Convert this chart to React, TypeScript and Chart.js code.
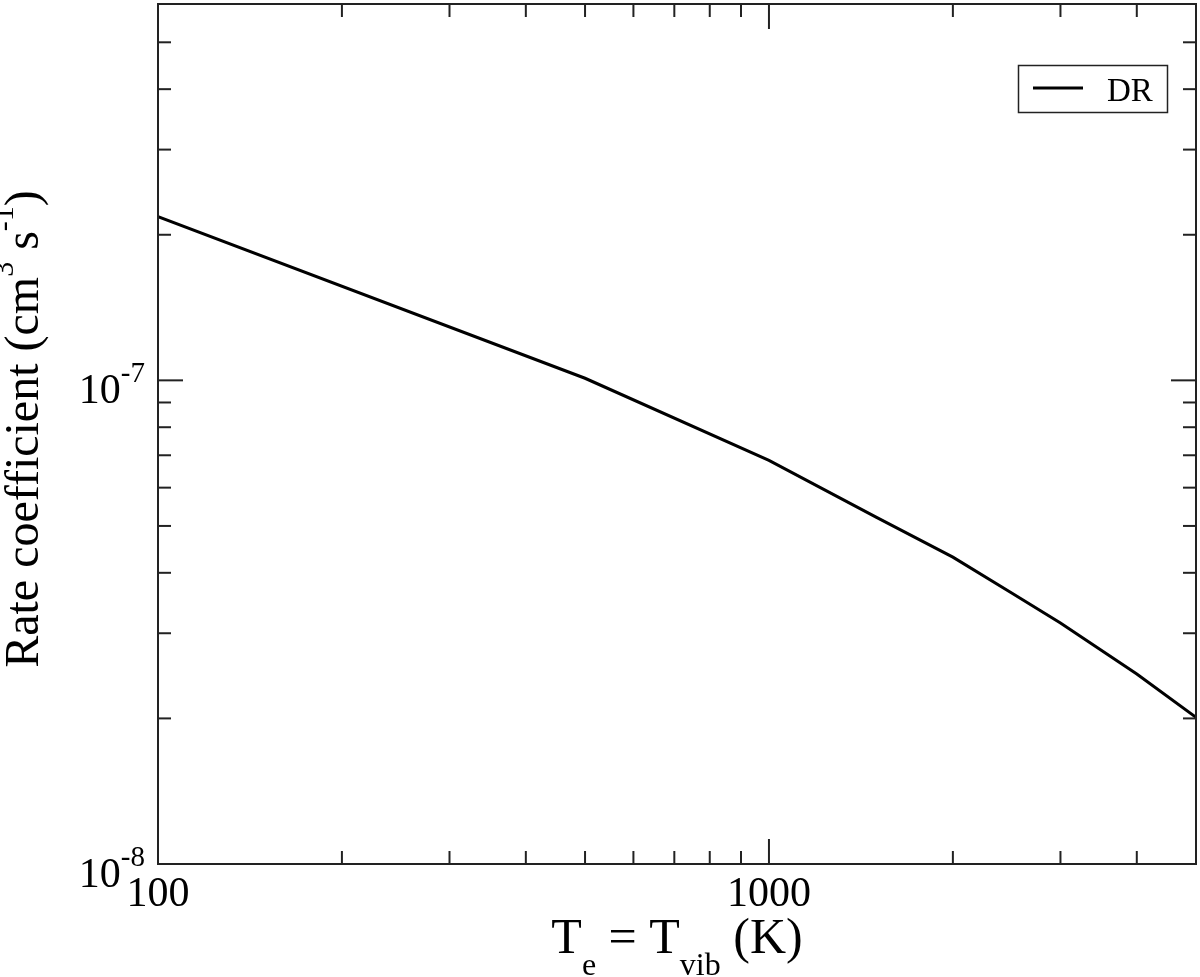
import React, { useEffect, useRef } from "react";
import { Chart, registerables } from "chart.js";

Chart.register(...registerables);

const temperatures = [100, 500, 1000, 1500, 2000, 2500, 3000, 4000, 5000];
const drRate = [2.18e-7, 1.01e-7, 6.83e-8, 5.21e-8, 4.31e-8, 3.63e-8, 3.15e-8, 2.47e-8, 2.01e-8];

const xMajorTicks = [100, 1000];
const xMajorLabels = ["100", "1000"];
const xMinorTicks = [200, 300, 400, 500, 600, 700, 800, 900, 2000, 3000, 4000, 5000];
const yMajorTicks = [1e-8, 1e-7];
const yMajorExponents = ["-8", "-7"];
const yMinorTicks = [2e-8, 3e-8, 4e-8, 5e-8, 6e-8, 7e-8, 8e-8, 9e-8, 2e-7, 3e-7, 4e-7, 5e-7];

const seriesName = "DR";
const FONT = '"Liberation Serif", "Times New Roman", serif';

type Seg = { t: string; size: number; dy?: number };

function richWidth(ctx: CanvasRenderingContext2D, segs: Seg[]) {
  let w = 0;
  for (const s of segs) {
    ctx.font = `${s.size}px ${FONT}`;
    w += ctx.measureText(s.t).width;
  }
  return w;
}

function drawRich(ctx: CanvasRenderingContext2D, segs: Seg[], x: number, y: number, align: "left" | "center" | "right") {
  const w = richWidth(ctx, segs);
  let cx = align === "left" ? x : align === "center" ? x - w / 2 : x - w;
  ctx.textAlign = "left";
  ctx.textBaseline = "alphabetic";
  for (const s of segs) {
    ctx.font = `${s.size}px ${FONT}`;
    ctx.fillText(s.t, cx, y + (s.dy || 0));
    cx += ctx.measureText(s.t).width;
  }
}

const decorPlugin = {
  id: "decor",
  afterDraw(chart: any) {
    const ctx: CanvasRenderingContext2D = chart.ctx;
    const { left, right, top, bottom } = chart.chartArea;
    const xs = chart.scales.x;
    const ys = chart.scales.y;
    ctx.save();
    ctx.strokeStyle = "#222";
    ctx.fillStyle = "#000";
    ctx.lineWidth = 2;
    ctx.strokeRect(left, top, right - left, bottom - top);

    const tick = (x1: number, y1: number, x2: number, y2: number) => {
      ctx.beginPath();
      ctx.moveTo(x1, y1);
      ctx.lineTo(x2, y2);
      ctx.stroke();
    };
    const MAJ = 25;
    const MIN = 13;
    xMajorTicks.forEach((v) => {
      const px = xs.getPixelForValue(v);
      tick(px, bottom, px, bottom - MAJ);
      tick(px, top, px, top + MAJ);
    });
    xMinorTicks.forEach((v) => {
      const px = xs.getPixelForValue(v);
      tick(px, bottom, px, bottom - MIN);
      tick(px, top, px, top + MIN);
    });
    yMajorTicks.forEach((v) => {
      const py = ys.getPixelForValue(v);
      tick(left, py, left + MAJ, py);
      tick(right, py, right - MAJ, py);
    });
    yMinorTicks.forEach((v) => {
      const py = ys.getPixelForValue(v);
      tick(left, py, left + MIN, py);
      tick(right, py, right - MIN, py);
    });

    // x tick labels
    ctx.fillStyle = "#000";
    xMajorTicks.forEach((v, i) => {
      const px = xs.getPixelForValue(v);
      drawRich(ctx, [{ t: xMajorLabels[i], size: 42 }], px, bottom + 42, "center");
    });
    // y tick labels
    yMajorTicks.forEach((v, i) => {
      const py = ys.getPixelForValue(v);
      drawRich(
        ctx,
        [
          { t: "10", size: 42 },
          { t: yMajorExponents[i], size: 29, dy: -21 },
        ],
        left - 13,
        py + 23,
        "right"
      );
    });

    // x title
    drawRich(
      ctx,
      [
        { t: "T", size: 50 },
        { t: "e", size: 32, dy: 22 },
        { t: " = T", size: 50 },
        { t: "vib", size: 32, dy: 22 },
        { t: " (K)", size: 50 },
      ],
      (left + right) / 2,
      953,
      "center"
    );

    // y title
    ctx.save();
    ctx.translate(38, 429);
    ctx.rotate(-Math.PI / 2);
    drawRich(
      ctx,
      [
        { t: "Rate coefficient (cm", size: 48 },
        { t: "3", size: 30, dy: -25 },
        { t: " s", size: 48 },
        { t: "-1", size: 30, dy: -25 },
        { t: ")", size: 48 },
      ],
      0,
      0,
      "center"
    );
    ctx.restore();

    // legend
    ctx.lineWidth = 1.5;
    ctx.strokeStyle = "#222";
    ctx.strokeRect(1018.5, 65.5, 149, 47);
    ctx.strokeStyle = "#000";
    ctx.lineWidth = 3;
    tick(1033, 88, 1083, 88);
    drawRich(ctx, [{ t: seriesName, size: 33 }], 1107, 101, "left");
    ctx.restore();
  },
};

export default function App() {
  const ref = useRef<HTMLCanvasElement | null>(null);
  useEffect(() => {
    if (!ref.current) return;
    const chart = new Chart(ref.current, {
      type: "line",
      data: {
        datasets: [
          {
            label: seriesName,
            data: temperatures.map((x, i) => ({ x, y: drRate[i] })),
            borderColor: "#000",
            borderWidth: 3,
            pointRadius: 0,
            tension: 0,
            fill: false,
          },
        ],
      },
      options: {
        animation: false,
        responsive: false,
        maintainAspectRatio: false,
        layout: { padding: { left: 158, right: 4, top: 4, bottom: 113 } },
        plugins: { legend: { display: false }, tooltip: { enabled: false } },
        scales: {
          x: { type: "logarithmic", min: 100, max: 5000, display: false },
          y: { type: "logarithmic", min: 1e-8, max: 6e-7, display: false },
        },
      },
      plugins: [decorPlugin],
    });
    return () => chart.destroy();
  }, []);
  return (
    <div style={{ position: "fixed", left: 0, top: 0, width: 1200, height: 977, background: "#fff" }}>
      <canvas ref={ref} width={1200} height={977} style={{ display: "block" }} />
    </div>
  );
}
